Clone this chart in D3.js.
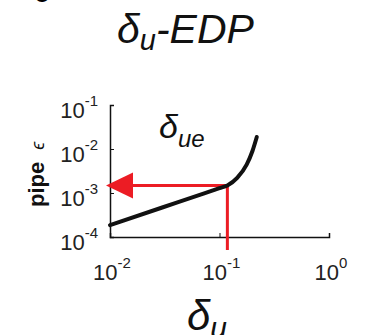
<!DOCTYPE html>
<html>
<head>
<meta charset="utf-8">
<script src="https://cdn.jsdelivr.net/npm/d3@7"></script>
<style>
  html, body { margin: 0; padding: 0; background: #fff; }
  svg { display: block; font-family: "Liberation Sans", Arial, sans-serif; }
</style>
</head>
<body>
<svg id="chart" width="365" height="335"></svg>
<script>
// δu sweep (x) and resulting pipe strain ε (y), log-log
const deltaU   = [0.01, 0.03, 0.066, 0.1, 0.118, 0.145, 0.177, 0.2, 0.219];
const pipeEps  = [1.86e-4, 4.68e-4, 9.05e-4, 1.285e-3, 1.48e-3, 2.2e-3, 4.4e-3, 9.0e-3, 1.87e-2];

// marked operating point δue and its strain
const deltaUe = 0.118;
const epsUe   = 1.48e-3;

// axis ticks
const xTicks = [1e-2, 1e-1, 1e0];
const xTickExp = ["-2", "-1", "0"];
const yTicks = [1e-1, 1e-2, 1e-3, 1e-4];
const yTickExp = ["-1", "-2", "-3", "-4"];

const svg = d3.select("#chart");
const red = "#ec1c24";

const x = d3.scaleLog().domain([0.01, 1]).range([110, 329]);
const y = d3.scaleLog().domain([1e-4, 1e-1]).range([237, 105]);

// minor tick values per decade
function minors(lo, hi) {
  const out = [];
  for (let e = Math.log10(lo); e < Math.log10(hi); e++) {
    for (let k = 2; k <= 9; k++) out.push(k * Math.pow(10, e));
  }
  return out;
}

// panel letter, mostly cropped off the top
svg.append("text").attr("x", 34).attr("y", 2)
  .attr("font-size", 28).attr("font-weight", "bold").text("c");

// title
const title = svg.append("text").attr("x", 117).attr("y", 43)
  .attr("font-size", 41).attr("font-style", "italic").attr("fill", "#111");
title.append("tspan").text("δ");
title.append("tspan").attr("font-size", 29).attr("dy", 7).text("u");
title.append("tspan").attr("dy", -7).text("-EDP");

// axes: inward ticks
const gx = svg.append("g").attr("transform", "translate(0,237)");
gx.call(d3.axisBottom(x).tickValues(minors(0.01, 1)).tickSize(-2).tickFormat(""));
gx.call(d3.axisBottom(x).tickValues(xTicks).tickSize(-4).tickFormat(""));

const gy = svg.append("g").attr("transform", "translate(110,0)");
gy.call(d3.axisLeft(y).tickValues(minors(1e-4, 1e-1)).tickSize(-2).tickFormat(""));
gy.call(d3.axisLeft(y).tickValues(yTicks).tickSize(-4).tickFormat(""));

svg.selectAll(".domain").attr("stroke", "#111").attr("stroke-width", 1.5);
svg.selectAll(".tick line").attr("stroke", "#111").attr("stroke-width", 1);

// tick labels with superscript exponents
xTicks.forEach((v, i) => {
  const t = svg.append("text").attr("x", x(v) + 2).attr("y", 280)
    .attr("text-anchor", "middle").attr("font-size", 22).attr("fill", "#222");
  t.append("tspan").text("10");
  t.append("tspan").attr("font-size", 15).attr("dy", -12).text(xTickExp[i]);
});
yTicks.forEach((v, i) => {
  const t = svg.append("text").attr("x", 98).attr("y", y(v) + 13)
    .attr("text-anchor", "end").attr("font-size", 22).attr("fill", "#222");
  t.append("tspan").text("10");
  t.append("tspan").attr("font-size", 15).attr("dy", -12).text(yTickExp[i]);
});

// red guide lines and arrow to the y axis
svg.append("line")
  .attr("x1", x(deltaUe)).attr("x2", x(deltaUe))
  .attr("y1", y(epsUe)).attr("y2", 250)
  .attr("stroke", red).attr("stroke-width", 3);
svg.append("line")
  .attr("x1", x(deltaUe)).attr("x2", 130)
  .attr("y1", y(epsUe)).attr("y2", y(epsUe))
  .attr("stroke", red).attr("stroke-width", 3);
const ay = y(epsUe);
svg.append("path")
  .attr("d", `M106,${ay} L133,${ay - 13} L133,${ay + 13} Z`)
  .attr("fill", red);

// curve
const line = d3.line()
  .x((d, i) => x(deltaU[i]))
  .y(d => y(d))
  .curve(d3.curveMonotoneX);
svg.append("path").datum(pipeEps)
  .attr("d", line)
  .attr("fill", "none").attr("stroke", "#111").attr("stroke-width", 4)
  .attr("stroke-linecap", "round");

// in-plot annotation δue
const ann = svg.append("text").attr("x", 159).attr("y", 138)
  .attr("font-size", 34).attr("font-style", "italic").attr("fill", "#111");
ann.append("tspan").text("δ");
ann.append("tspan").attr("font-size", 24).attr("dy", 9).text("ue");

// y label
const yl = svg.append("text")
  .attr("transform", "translate(44,207) rotate(-90)")
  .attr("text-anchor", "start").attr("font-size", 22).attr("font-weight", "bold")
  .attr("fill", "#111");
yl.append("tspan").text("pipe");
yl.append("tspan").attr("dx", 12).attr("font-weight", "normal").attr("font-size", 18)
  .attr("font-style", "italic").text("ϵ");

// x label
const xl = svg.append("text").attr("x", 187).attr("y", 330)
  .attr("font-size", 42).attr("font-style", "italic").attr("fill", "#111");
xl.append("tspan").text("δ");
xl.append("tspan").attr("font-size", 30).attr("dy", 8).text("u");
</script>
</body>
</html>
